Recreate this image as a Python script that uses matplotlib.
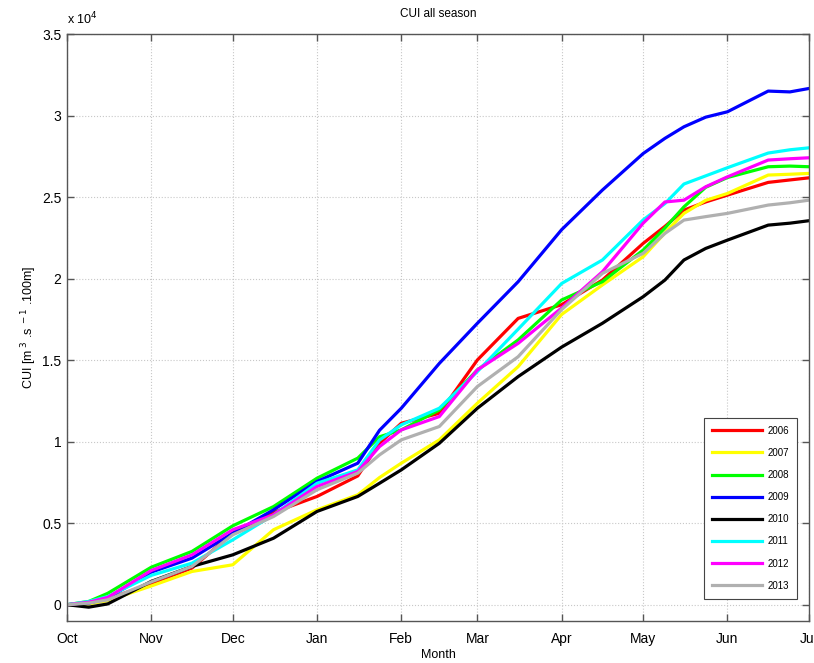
"""CUI all season: cumulative upwelling index per season, Oct to Jul."""
import matplotlib
matplotlib.use('Agg')
import matplotlib.pyplot as plt
from matplotlib.ticker import FuncFormatter

plt.rcParams['font.family'] = ['Liberation Sans', 'DejaVu Sans']

# day of season (0 = 1 Oct)
days = [0, 8, 15, 31, 46, 61, 76, 92, 107, 115, 123, 137, 151, 166, 182, 197,
        212, 220, 227, 235, 243, 258, 266, 273]

cui_2006 = [0, 100, 350, 1300, 2250, 4400, 5660, 6640, 7900, 9900, 11130, 11740,
            15010, 17560, 18400, 19910, 22160, 23200, 24200, 24700, 25120, 25900, 26050, 26180]
cui_2007 = [0, 50, 250, 1150, 2040, 2450, 4600, 5820, 6740, 7800, 8680, 10110,
            12360, 14600, 17800, 19610, 21340, 22800, 24000, 24800, 25220, 26350, 26400, 26450]
cui_2008 = [0, 200, 700, 2300, 3270, 4840, 6020, 7760, 8990, 10300, 10720, 11950,
            14400, 16240, 18690, 19810, 21750, 23100, 24400, 25600, 26200, 26860, 26900, 26860]
cui_2009 = [0, 100, 400, 2000, 2860, 4390, 5820, 7560, 8680, 10700, 12050, 14800,
            17260, 19810, 23000, 25430, 27670, 28600, 29310, 29900, 30230, 31500, 31450, 31660]
cui_2010 = [0, -150, 50, 1430, 2350, 3060, 4080, 5720, 6640, 7450, 8270, 9900,
            12050, 13990, 15800, 17260, 18890, 19910, 21140, 21850, 22360, 23280, 23400, 23550]
cui_2011 = [0, 200, 500, 1800, 2550, 3980, 5510, 7450, 8270, 10100, 11030, 12050,
            14300, 16900, 19700, 21140, 23600, 24600, 25800, 26300, 26800, 27700, 27900, 28020]
cui_2012 = [0, 150, 450, 2100, 3060, 4600, 5510, 7250, 8170, 9700, 10720, 11540,
            14400, 16030, 18200, 20420, 23400, 24700, 24810, 25630, 26240, 27270, 27350, 27410]
cui_2013 = [0, 100, 300, 1400, 2350, 4290, 5410, 7050, 8070, 9190, 10110, 10930,
            13380, 15210, 18100, 20320, 21550, 22770, 23590, 23800, 24000, 24510, 24650, 24810]

years = ['2006', '2007', '2008', '2009', '2010', '2011', '2012', '2013']
series = [cui_2006, cui_2007, cui_2008, cui_2009, cui_2010, cui_2011, cui_2012, cui_2013]
colors = ['#ff0000', '#ffff00', '#00ff00', '#0000ff', '#000000', '#00ffff', '#ff00ff', '#b0b0b0']

month_days = [0, 31, 61, 92, 123, 151, 182, 212, 243, 273]
month_labels = ['Oct', 'Nov', 'Dec', 'Jan', 'Feb', 'Mar', 'Apr', 'May', 'Jun', 'Jul']

fig = plt.figure(figsize=(8.14, 6.63), dpi=100)
ax = fig.add_axes([0.0823, 0.0633, 0.9115, 0.8854])

for yr, vals, c in zip(years, series, colors):
    ax.plot(days, vals, color=c, linewidth=2.3, label=yr)

ax.set_xlim(0, 273)
ax.set_ylim(-1000, 35000)
ax.set_xticks(month_days)
ax.set_xticklabels(month_labels)
ax.set_yticks([0, 5000, 10000, 15000, 20000, 25000, 30000, 35000])
ax.yaxis.set_major_formatter(FuncFormatter(lambda v, p: f'{v / 1e4:g}'))

ax.grid(True, linestyle=':', color='#c8c8c8', linewidth=0.8)
ax.tick_params(direction='in', length=5, width=1, colors='#555555', labelcolor='black',
               labelsize=10, top=True, right=True)
ax.tick_params(axis='x', pad=8)
ax.tick_params(axis='y', pad=4)
for s in ax.spines.values():
    s.set_color('#555555')
    s.set_linewidth(1)

ax.set_title('CUI all season', fontsize=8.5, pad=12)
ax.set_xlabel('Month', fontsize=9, labelpad=2)
ax.set_ylabel('CUI [m$^{\\ 3}$ .s$^{\\ -1}$ .100m]', fontsize=9, labelpad=2)
ax.text(0.0, 1.012, 'x 10$^{4}$', transform=ax.transAxes, fontsize=9, ha='left', va='bottom')

leg = ax.legend(loc='lower right', fontsize=7, handlelength=5.2, labelspacing=1.25,
                borderpad=0.8, handletextpad=0.6, fancybox=False, framealpha=1,
                edgecolor='#444444', bbox_to_anchor=(0.991, 0.03))
leg.get_frame().set_linewidth(0.8)

fig.savefig('out.png', dpi=100)
